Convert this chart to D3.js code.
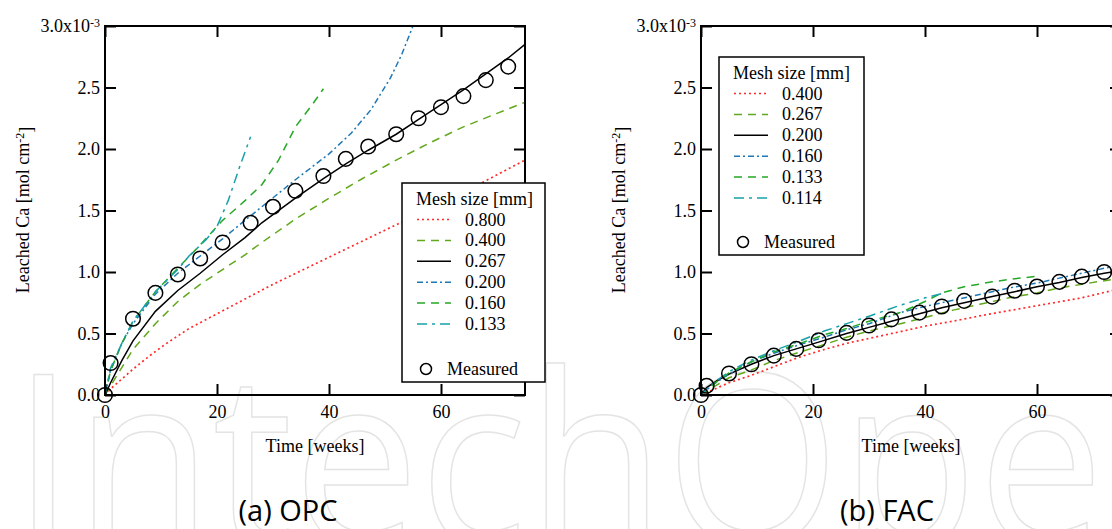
<!DOCTYPE html>
<html>
  <head>
    <meta charset="utf-8">
    <title>Leached Ca</title>
    <script src="https://d3js.org/d3.v7.min.js"></script>
    <style>
      body { margin: 0; background: #fff; }
      text { font-family: "Liberation Serif", "Times New Roman", serif; }
    </style>
  </head>
  <body>
    <div id="chart"></div>
    <script>
    // measured data (weeks, leached Ca x1e-3 mol/cm2)
    var weeks = [0, 1, 5, 9, 13, 17, 21, 26, 30, 34, 39, 43, 47, 52, 56, 60, 64, 68, 72];
    var opcMeasured = [0, 0.26, 0.62, 0.83, 0.98, 1.11, 1.24, 1.40, 1.53, 1.66, 1.78, 1.92, 2.02, 2.12, 2.25, 2.34, 2.43, 2.56, 2.67];
    var facMeasured = [0, 0.075, 0.175, 0.25, 0.32, 0.375, 0.445, 0.505, 0.565, 0.615, 0.67, 0.72, 0.765, 0.80, 0.848, 0.882, 0.92, 0.962, 1.0];

    // simulated curves [week, value]
    var opc800 = [[0,0],[1,0.05],[3,0.13],[5,0.21],[8,0.32],[11,0.42],[15,0.54],[20,0.66],[25,0.78],[30,0.9],[35,1.01],[40,1.12],[45,1.23],[50,1.34],[55,1.45],[60,1.56],[65,1.67],[70,1.79],[75,1.91]];
    var opc400 = [[0,0],[2,0.15],[5,0.37],[9,0.58],[13,0.76],[17,0.9],[21,1.02],[25,1.14],[28,1.24],[34,1.43],[40,1.6],[46,1.76],[52,1.91],[58,2.05],[64,2.18],[70,2.29],[75,2.38]];
    var opc267 = [[0,0],[1,0.1],[3,0.28],[5,0.44],[9,0.68],[13,0.85],[17,0.99],[21,1.14],[25,1.28],[28,1.4],[34,1.6],[39,1.76],[43,1.88],[47,1.99],[52,2.12],[56,2.24],[60,2.36],[64,2.48],[68,2.61],[72,2.74],[75,2.85]];
    var opc200 = [[0,0],[1,0.2],[3,0.42],[5,0.58],[9,0.82],[13,0.99],[17,1.13],[21,1.27],[25,1.42],[28,1.53],[34,1.75],[40,1.96],[44,2.13],[47.5,2.32],[51,2.58],[53,2.77],[55,3.0]];
    var opc160 = [[0,0],[1,0.2],[3,0.42],[5,0.6],[9,0.84],[13,1.03],[17,1.22],[21,1.42],[25,1.58],[28,1.71],[31,1.91],[34,2.18],[37,2.36],[39,2.49]];
    var opc133 = [[0,0],[1,0.22],[3,0.42],[5,0.6],[9,0.84],[13,1.02],[15,1.13],[18,1.26],[20,1.37],[22,1.58],[24,1.85],[26,2.1]];

    var fac400 = [[0,0],[2,0.04],[5,0.1],[9,0.16],[13,0.23],[17.7,0.31],[22,0.37],[26,0.42],[30,0.46],[35.6,0.515],[40,0.56],[45,0.6],[50,0.645],[53,0.67],[58,0.71],[63,0.75],[68,0.79],[73.5,0.85],[75,0.86]];
    var fac267 = [[0,0],[2,0.06],[5,0.14],[8.8,0.2],[13,0.28],[17.7,0.35],[22,0.41],[26,0.47],[30,0.52],[35.6,0.58],[40,0.63],[45,0.69],[50,0.74],[55,0.79],[60,0.83],[64,0.87],[68,0.9],[73.5,0.94],[75,0.955]];
    var fac200 = [[0,0],[1,0.06],[3,0.12],[5,0.17],[9,0.25],[13,0.32],[17,0.375],[21,0.43],[26,0.5],[30,0.55],[34,0.6],[39,0.66],[43,0.71],[47,0.75],[52,0.8],[56,0.84],[60,0.88],[64,0.915],[68,0.955],[72,0.99],[75,1.01]];
    var fac160 = [[0,0],[2,0.08],[5,0.17],[9,0.27],[13,0.34],[17.7,0.41],[22,0.47],[26,0.53],[30,0.58],[35.6,0.67],[40,0.72],[45,0.77],[50,0.82],[55,0.87],[60,0.91],[65,0.96],[70,1.01],[75,1.06]];
    var fac133 = [[0,0],[2,0.08],[5,0.18],[9,0.27],[13,0.35],[17.7,0.42],[22,0.49],[26,0.54],[30,0.6],[35.6,0.67],[40,0.76],[43,0.83],[47,0.88],[52,0.92],[56,0.945],[60,0.965]];
    var fac114 = [[0,0],[2,0.09],[5,0.19],[8.8,0.28],[13,0.36],[17.7,0.44],[22,0.52],[26,0.58],[30,0.64],[35.6,0.73],[40,0.79],[43.4,0.83]];

    var opcLabels = ["0.800", "0.400", "0.267", "0.200", "0.160", "0.133"];
    var facLabels = ["0.400", "0.267", "0.200", "0.160", "0.133", "0.114"];
    var xTicks = [0, 20, 40, 60];
    var yTicks = [0, 0.5, 1, 1.5, 2, 2.5, 3];

    // line styles, same order in both panels
    var styles = [
      {color: "#ff2b2b", dash: "2,3", width: 1.7},
      {color: "#62a81c", dash: "8,6", width: 1.5},
      {color: "#000000", dash: null, width: 1.5},
      {color: "#1f78b4", dash: "6,3,2,3", width: 1.5},
      {color: "#25a825", dash: "8,6", width: 1.5},
      {color: "#17a0a8", dash: "10,5,3,5", width: 1.5}
    ];

    var svg = d3.select("#chart").append("svg")
      .attr("width", 1112)
      .attr("height", 529);

    // faint watermark behind everything
    svg.append("text")
      .attr("x", 12)
      .attr("y", 546)
      .attr("textLength", 1230)
      .attr("lengthAdjust", "spacingAndGlyphs")
      .style("font-family", "'Open Sans', sans-serif")
      .style("font-size", "240px")
      .style("fill", "none")
      .style("stroke", "#e4e4e4")
      .style("stroke-width", 1.5)
      .text("IntechOpen");

    function drawPanel(p) {
      var x = d3.scaleLinear().domain([0, 75]).range([p.left, p.left + 420]);
      var y = d3.scaleLinear().domain([0, 3]).range([395, 26]);
      var g = svg.append("g");

      var line = d3.line()
        .x(function (d) { return x(d[0]); })
        .y(function (d) { return y(d[1]); });

      p.series.forEach(function (s, i) {
        g.append("path")
          .attr("d", line(s))
          .attr("fill", "none")
          .attr("stroke", styles[i].color)
          .attr("stroke-width", styles[i].width)
          .attr("stroke-dasharray", styles[i].dash);
      });

      g.selectAll("circle.m")
        .data(p.measured)
        .enter().append("circle")
        .attr("class", "m")
        .attr("cx", function (d, i) { return x(weeks[i]); })
        .attr("cy", function (d) { return y(d); })
        .attr("r", 7.3)
        .attr("fill", "none")
        .attr("stroke", "#000")
        .attr("stroke-width", 1.5);

      // axes, ticks pointing inwards
      g.append("g").attr("transform", "translate(0,395)")
        .call(d3.axisBottom(x).tickValues(xTicks).tickSizeInner(-11).tickSizeOuter(0).tickPadding(10));
      g.append("g").attr("transform", "translate(0,26)")
        .call(d3.axisTop(x).tickValues(xTicks).tickSizeInner(-11).tickSizeOuter(0).tickFormat(""));
      var left = g.append("g").attr("transform", "translate(" + p.left + ",0)")
        .call(d3.axisLeft(y).tickValues(yTicks).tickSizeInner(-11).tickSizeOuter(0).tickPadding(5).tickFormat(d3.format(".1f")));
      g.append("g").attr("transform", "translate(" + (p.left + 420) + ",0)")
        .call(d3.axisRight(y).tickValues(yTicks).tickSizeInner(-11).tickSizeOuter(0).tickFormat(""));

      g.selectAll(".domain").remove();
      g.selectAll(".tick line").attr("stroke", "#000").attr("stroke-width", 2);
      g.selectAll(".tick text")
        .style("font-family", "'Liberation Serif', serif")
        .style("font-size", "18px")
        .attr("fill", "#000");

      left.selectAll(".tick text")
        .filter(function (d) { return d === 3; })
        .text("3.0x10")
        .append("tspan")
        .attr("dy", "-0.45em")
        .style("font-size", "12px")
        .text("-3");

      g.append("rect")
        .attr("x", p.left).attr("y", 26)
        .attr("width", 420).attr("height", 369)
        .attr("fill", "none")
        .attr("stroke", "#000")
        .attr("stroke-width", 2);

      // axis titles
      g.append("text")
        .attr("x", p.left + 210).attr("y", 452)
        .attr("text-anchor", "middle")
        .style("font-size", "18px")
        .text("Time [weeks]");

      var yt = g.append("text")
        .attr("transform", "translate(" + (p.left - 76) + ",210) rotate(-90)")
        .attr("text-anchor", "middle")
        .style("font-size", "18px")
        .text("Leached Ca [mol cm");
      yt.append("tspan").attr("dy", "-0.45em").style("font-size", "12px").text("-2");
      yt.append("tspan").attr("dy", "0.45em").text("]");

      // legend
      var lg = g.append("g").attr("transform", "translate(" + p.legend[0] + "," + p.legend[1] + ")");
      lg.append("rect")
        .attr("width", p.legend[2]).attr("height", p.legend[3])
        .attr("fill", "#fff").attr("stroke", "#000").attr("stroke-width", 1.5);
      lg.append("text").attr("x", 14).attr("y", 22).style("font-size", "18px").text("Mesh size [mm]");
      p.labels.forEach(function (lab, i) {
        var cy = 36.5 + 20.9 * i;
        lg.append("line")
          .attr("x1", 15).attr("x2", 49).attr("y1", cy).attr("y2", cy)
          .attr("stroke", styles[i].color)
          .attr("stroke-width", styles[i].width)
          .attr("stroke-dasharray", styles[i].dash);
        lg.append("text").attr("x", 63).attr("y", cy + 6).style("font-size", "18px").text(lab);
      });
      lg.append("circle").attr("cx", 24).attr("cy", p.legend[3] - 13)
        .attr("r", 5.5).attr("fill", "none").attr("stroke", "#000").attr("stroke-width", 1.5);
      lg.append("text").attr("x", 45).attr("y", p.legend[3] - 7).style("font-size", "18px").text("Measured");

      svg.append("text")
        .attr("x", p.caption[0]).attr("y", 521)
        .attr("text-anchor", "middle")
        .style("font-family", "'Open Sans', sans-serif")
        .style("font-size", "29px")
        .text(p.caption[1]);
    }

    drawPanel({
      left: 105,
      series: [opc800, opc400, opc267, opc200, opc160, opc133],
      measured: opcMeasured,
      labels: opcLabels,
      legend: [402, 183, 143, 199],
      caption: [288, "(a) OPC"]
    });
    drawPanel({
      left: 701,
      series: [fac400, fac267, fac200, fac160, fac133, fac114],
      measured: facMeasured,
      labels: facLabels,
      legend: [719, 57, 145, 198],
      caption: [887, "(b) FAC"]
    });
    </script>
  </body>
</html>
